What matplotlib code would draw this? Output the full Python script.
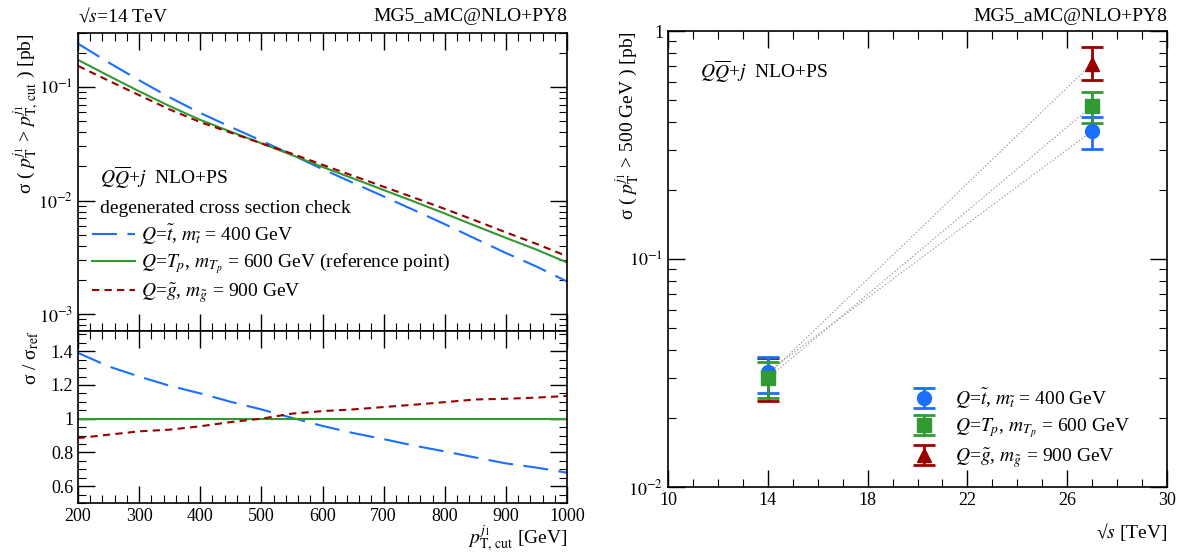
import numpy as np
import matplotlib
matplotlib.use("Agg")
import matplotlib.pyplot as plt
from matplotlib.ticker import MultipleLocator, FuncFormatter, LogLocator, NullFormatter

# ===========================================================================
# 1: Data
# ===========================================================================

# left: cross section above pT cut, reference point (T_p, 600 GeV)
pt_cut = [200, 250, 300, 350, 400, 450, 500, 550, 600, 650, 700, 750, 800, 850, 900, 950, 1000]
sigma_ref = [0.174, 0.126, 0.092, 0.068, 0.0515, 0.0405, 0.032, 0.0252, 0.0198, 0.0157,
             0.0124, 0.0098, 0.0077, 0.0060, 0.0047, 0.0037, 0.00285]
# ratios to the reference point
ratio_stop = [1.39, 1.31, 1.25, 1.195, 1.15, 1.10, 1.055, 1.005, 0.957, 0.915,
              0.879, 0.84, 0.806, 0.77, 0.735, 0.71, 0.68]
ratio_gluino = [0.885, 0.905, 0.925, 0.935, 0.955, 0.98, 1.0, 1.03, 1.045, 1.055,
                1.069, 1.083, 1.098, 1.114, 1.118, 1.125, 1.135]

# right: sigma(pT > 500 GeV) vs sqrt(s)
sqrts = [14, 27]
stop_val = [0.032, 0.364]
stop_lo = [0.0258, 0.305]
stop_hi = [0.0373, 0.418]
tp_val = [0.030, 0.469]
tp_lo = [0.0245, 0.396]
tp_hi = [0.0353, 0.540]
gluino_val = [0.031, 0.72]
gluino_lo = [0.0238, 0.608]
gluino_hi = [0.0369, 0.853]

lbl_stop = r"$Q$=$\tilde{t}$, $m_{\tilde{t}}$ = 400 GeV"
lbl_tp = r"$Q$=$T_p$, $m_{T_p}$ = 600 GeV"
lbl_gluino = r"$Q$=$\tilde{g}$, $m_{\tilde{g}}$ = 900 GeV"

BLUE = "#1a6fff"
GREEN = "#339933"
RED = "#990000"

# ===========================================================================
# 2: Style
# ===========================================================================

plt.rcParams["font.family"] = ["Liberation Serif", "DejaVu Serif"]
plt.rcParams["mathtext.fontset"] = "stix"
plt.rcParams["font.size"] = 13
plt.rcParams["axes.linewidth"] = 1.2


def root_ticks(ax):
    ax.tick_params(which="both", direction="in", top=True, right=True, labelsize=13)
    ax.tick_params(which="major", length=12, width=1.0)
    ax.tick_params(which="minor", length=6, width=0.8)


def log_fmt(v, pos):
    if abs(v - 1) < 1e-9:
        return "1"
    return r"$10^{%d}$" % int(round(np.log10(v)))


fig = plt.figure(figsize=(11.84, 5.56), dpi=100)
ax_top = fig.add_axes([0.0659, 0.4047, 0.413, 0.5359])
ax_bot = fig.add_axes([0.0659, 0.0953, 0.413, 0.3094], sharex=ax_top)
ax_r = fig.add_axes([0.5642, 0.1241, 0.4215, 0.8201])

pt = np.array(pt_cut)
sref = np.array(sigma_ref)
r_stop = np.array(ratio_stop)
r_gl = np.array(ratio_gluino)

# ===========================================================================
# 3: Left panel
# ===========================================================================

ax_top.plot(pt, sref * r_stop, color=BLUE, lw=1.5, dashes=(12, 5), label=lbl_stop)
ax_top.plot(pt, sref, color=GREEN, lw=1.5, label=lbl_tp + " (reference point)")
ax_top.plot(pt, sref * r_gl, color=RED, lw=1.5, dashes=(3.5, 2.5), label=lbl_gluino)
ax_top.set_yscale("log")
ax_top.set_ylim(7.1e-4, 0.30)
ax_top.set_xlim(200, 1000)
ax_top.yaxis.set_major_formatter(FuncFormatter(log_fmt))
ax_top.yaxis.set_minor_locator(LogLocator(subs=np.arange(2, 10)))
ax_top.yaxis.set_minor_formatter(NullFormatter())
ax_top.xaxis.set_major_locator(MultipleLocator(100))
ax_top.xaxis.set_minor_locator(MultipleLocator(20))
root_ticks(ax_top)
plt.setp(ax_top.get_xticklabels(), visible=False)
ax_top.set_ylabel(r"σ ( $p_{\rm T}^{j_1}$ > $p_{\rm T,\,cut}^{j_1}$ ) [pb]", fontsize=14)
ax_top.yaxis.set_label_coords(-0.075, 1.0)
ax_top.yaxis.label.set_ha("right")

ax_top.text(0.045, 0.49, r"$Q\overline{Q}$+$j$  NLO+PS", transform=ax_top.transAxes, fontsize=14)
ax_top.text(0.045, 0.395, "degenerated cross section check", transform=ax_top.transAxes, fontsize=14)
ax_top.legend(loc="upper left", bbox_to_anchor=(0.0, 0.41), frameon=False, fontsize=14,
              handlelength=2.25, handletextpad=0.3, labelspacing=0.25, borderaxespad=0.3)

fig.text(0.0659, 0.962, "√$s$=14 TeV", fontsize=14)
fig.text(0.0659 + 0.413, 0.962, "MG5_aMC@NLO+PY8", fontsize=14, ha="right")

ax_bot.plot(pt, r_stop, color=BLUE, lw=1.5, dashes=(12, 5))
ax_bot.plot(pt, sref / sref, color=GREEN, lw=1.5)
ax_bot.plot(pt, r_gl, color=RED, lw=1.5, dashes=(3.5, 2.5))
ax_bot.set_ylim(0.5, 1.52)
ax_bot.yaxis.set_major_locator(MultipleLocator(0.2))
ax_bot.yaxis.set_minor_locator(MultipleLocator(0.05))
ax_bot.yaxis.set_major_formatter(FuncFormatter(lambda v, p: "%g" % round(v, 2)))
root_ticks(ax_bot)
ax_bot.set_ylabel(r"σ / σ$_{\rm ref}$", fontsize=14)
ax_bot.yaxis.set_label_coords(-0.075, 1.0)
ax_bot.yaxis.label.set_ha("right")
ax_bot.set_xlabel(r"$p_{\rm T,\,cut}^{j_1}$ [GeV]", fontsize=14)
ax_bot.xaxis.set_label_coords(1.0, -0.235)
ax_bot.xaxis.label.set_ha("right")
ax_bot.xaxis.label.set_va("baseline")

# ===========================================================================
# 4: Right panel
# ===========================================================================

series = [
    (gluino_val, gluino_lo, gluino_hi, RED, "^", lbl_gluino),
    (stop_val, stop_lo, stop_hi, BLUE, "o", lbl_stop),
    (tp_val, tp_lo, tp_hi, GREEN, "s", lbl_tp),
]
handles = {}
for val, lo, hi, col, mk, lbl in series:
    val = np.array(val)
    err = [val - np.array(lo), np.array(hi) - val]
    ax_r.plot(sqrts, val, ":", color="#999999", lw=0.9, zorder=1)
    h = ax_r.errorbar(sqrts, val, yerr=err, fmt=mk, color=col, ms=10, elinewidth=2,
                      capsize=8, capthick=2, label=lbl, zorder=3)
    handles[lbl] = h

ax_r.set_yscale("log")
ax_r.set_ylim(0.01, 1)
ax_r.set_xlim(10, 30)
ax_r.set_xticks(np.arange(10, 31, 4))
ax_r.xaxis.set_minor_locator(MultipleLocator(1))
ax_r.yaxis.set_major_formatter(FuncFormatter(log_fmt))
ax_r.yaxis.set_minor_locator(LogLocator(subs=np.arange(2, 10)))
ax_r.yaxis.set_minor_formatter(NullFormatter())
root_ticks(ax_r)
ax_r.set_ylabel(r"σ ( $p_{\rm T}^{j_1}$ > 500 GeV ) [pb]", fontsize=14)
ax_r.yaxis.set_label_coords(-0.055, 1.0)
ax_r.yaxis.label.set_ha("right")
ax_r.set_xlabel("√$s$ [TeV]", fontsize=14)
ax_r.xaxis.set_label_coords(1.0, -0.112)
ax_r.xaxis.label.set_ha("right")
ax_r.xaxis.label.set_va("baseline")
ax_r.text(0.065, 0.895, r"$Q\overline{Q}$+$j$  NLO+PS", transform=ax_r.transAxes, fontsize=14)
fig.text(0.5642 + 0.4215, 0.962, "MG5_aMC@NLO+PY8", fontsize=14, ha="right")

ax_r.legend([handles[lbl_stop], handles[lbl_tp], handles[lbl_gluino]],
            [lbl_stop, lbl_tp, lbl_gluino], loc="lower right", bbox_to_anchor=(0.96, 0.0),
            frameon=False, fontsize=14, handletextpad=0.6, labelspacing=0.3)

fig.savefig("out.png", dpi=100)
